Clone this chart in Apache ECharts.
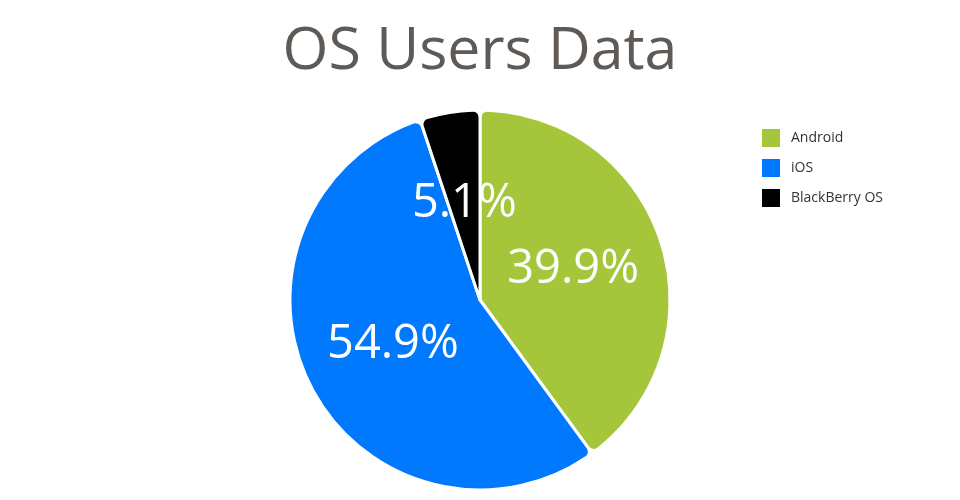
<!DOCTYPE html>
<html>
<head>
<meta charset="utf-8">
<script src="https://cdn.jsdelivr.net/npm/echarts@6/dist/echarts.min.js"></script>
<style>html,body{margin:0;padding:0;background:#fff}#c{width:960px;height:500px}</style>
</head>
<body>
<div id="c"></div>
<script>
const categories = ['Android', 'iOS', 'BlackBerry OS'];
const shares = [39.9, 54.9, 5.1];
const colors = ['#a5c63b', '#0079fe', '#000000'];

const chart = echarts.init(document.getElementById('c'), null, {renderer: 'canvas'});
chart.setOption({
  animation: false,
  backgroundColor: '#ffffff',
  color: colors,
  title: {
    text: 'OS Users Data',
    left: 'center',
    top: 18,
    textStyle: {fontFamily: 'Open Sans', fontSize: 59, fontWeight: 'normal', color: '#5f5a55'}
  },
  legend: {
    orient: 'vertical',
    left: 755,
    top: 122,
    itemWidth: 20,
    itemHeight: 20,
    itemGap: 8,
    icon: 'rect',
    data: categories,
    textStyle: {fontFamily: 'Open Sans', fontSize: 14, color: '#333333', lineHeight: 16, padding: [0, 0, 0, 5]}
  },
  series: [{
    type: 'pie',
    center: [480, 300],
    radius: [0, 190],
    startAngle: 90,
    clockwise: true,
    itemStyle: {borderRadius: 7, borderColor: '#ffffff', borderWidth: 3},
    label: {
      show: true,
      position: 'inside',
      formatter: '{c}%',
      color: '#ffffff',
      fontFamily: 'Open Sans',
      fontSize: 47
    },
    labelLine: {show: false},
    emphasis: {disabled: true},
    data: categories.map((n, i) => ({name: n, value: shares[i]}))
  }]
});
</script>
</body>
</html>
